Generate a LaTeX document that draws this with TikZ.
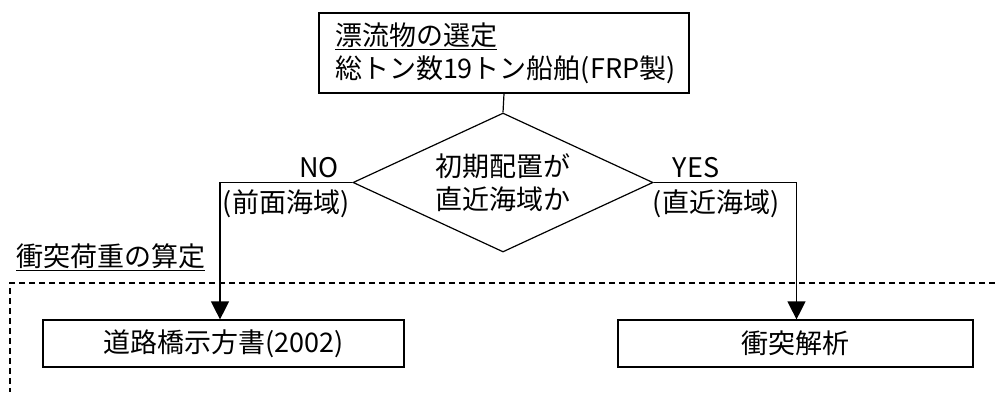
\documentclass[tikz,border=0pt]{standalone}
\usepackage{fontspec}
\setmainfont{Noto Sans CJK JP}
\usetikzlibrary{shapes.geometric,arrows.meta}
\tikzset{
  base/.style={font=\fontsize{27}{33}\selectfont},
  box/.style={base,draw,line width=1.2pt,inner sep=0pt},
  lbl/.style={base,inner sep=0pt},
  conn/.style={line width=1.2pt},
  arr/.style={conn,-{Triangle[width=18pt,length=18pt]}},
  region/.style={line width=1.2pt,dash pattern=on 6pt off 4pt}
}
\begin{document}
\begin{tikzpicture}[x=1pt,y=-1pt]
\useasboundingbox (0,0) rectangle (995,392);
\node[box,minimum width=370pt,minimum height=80pt,text width=338pt,align=left] (top) at (504,53)
  {\underline{漂流物の選定}\\総トン数19トン船舶(FRP製)};
\node[base,draw,line width=1.2pt,diamond,inner sep=0pt,minimum width=300pt,minimum height=139pt,aspect=2.16,align=center] (dia) at (503,182.5)
  {初期配置が\\直近海域か};
\node[lbl] (no) at (319,168) {NO};
\node[lbl] (noarea) at (286,204) {(前面海域)};
\node[lbl] (yes) at (696,168) {YES};
\node[lbl] (yesarea) at (716,204) {(直近海域)};
\node[lbl,anchor=base west] (calc) at (16,266) {\underline{衝突荷重の算定}};
\node[box,minimum width=361pt,minimum height=47pt] (lb) at (223.5,343.5) {道路橋示方書(2002)};
\node[box,minimum width=355pt,minimum height=47pt] (rb) at (795.5,343.5) {衝突解析};
\coordinate (rtop) at (995,283);
\coordinate (rcorner) at (10,283);
\coordinate (rbot) at (10,392);
\draw[region] (rtop) -- (rcorner) -- (rbot);
\draw[conn] (top.south) -- (dia.north);
\draw[arr] (dia.west) -| ([xshift=-3.5pt]lb.north);
\draw[arr] (dia.east) -| ([xshift=1pt]rb.north);
\end{tikzpicture}
\end{document}
